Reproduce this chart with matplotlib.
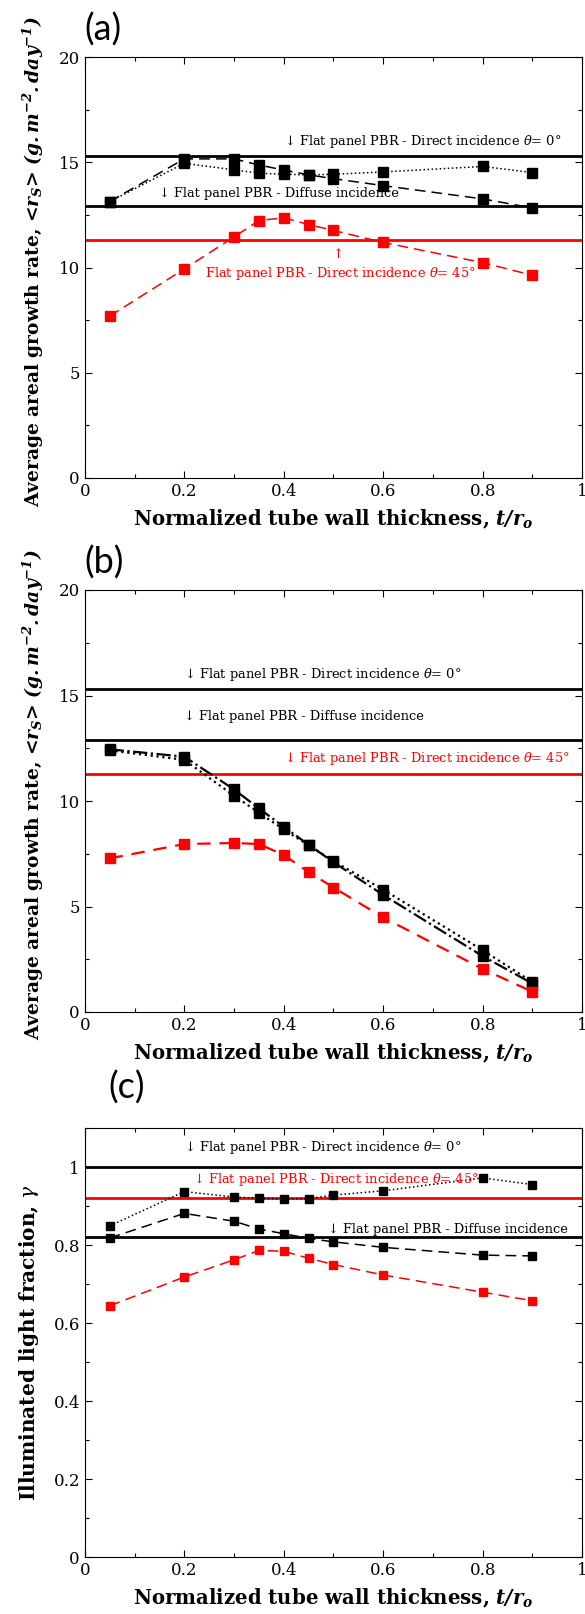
import matplotlib
matplotlib.use('Agg')
import matplotlib.pyplot as plt
from matplotlib.ticker import MultipleLocator

plt.rcParams['font.family'] = ['DejaVu Serif', 'DejaVu Sans']
plt.rcParams['mathtext.fontset'] = 'custom'
plt.rcParams['mathtext.rm'] = 'DejaVu Serif'
plt.rcParams['mathtext.it'] = 'DejaVu Serif:italic'
plt.rcParams['mathtext.bf'] = 'DejaVu Serif:bold'
plt.rcParams['mathtext.bfit'] = 'DejaVu Serif:bold:italic'

# --- dados ---
t_ro = [0.05, 0.2, 0.3, 0.35, 0.4, 0.45, 0.5, 0.6, 0.8, 0.9]

# (a)
a_dash = [13.13, 15.16, 15.16, 14.87, 14.63, 14.40, 14.22, 13.89, 13.26, 12.83]
a_dot = [13.13, 14.95, 14.64, 14.48, 14.43, 14.40, 14.43, 14.54, 14.80, 14.51]
a_red = [7.69, 9.93, 11.45, 12.23, 12.36, 12.04, 11.76, 11.19, 10.23, 9.63]

# (b)
b_dot = [12.40, 11.95, 10.25, 9.45, 8.65, 7.90, 7.15, 5.80, 2.93, 1.42]
b_dashdot = [12.45, 12.10, 10.55, 9.65, 8.78, 7.93, 7.10, 5.55, 2.65, 1.35]
b_red = [7.28, 7.96, 8.01, 7.96, 7.44, 6.63, 5.90, 4.48, 2.04, 0.96]

# (c)
c_dot = [0.849, 0.937, 0.923, 0.920, 0.918, 0.919, 0.928, 0.939, 0.972, 0.955]
c_dash = [0.818, 0.881, 0.861, 0.841, 0.829, 0.817, 0.808, 0.794, 0.774, 0.772]
c_red = [0.644, 0.718, 0.762, 0.786, 0.784, 0.766, 0.750, 0.723, 0.679, 0.657]

# flat panel references
flat_rs = {'direct0': 15.3, 'diffuse': 12.9, 'direct45': 11.3}
flat_gamma = {'direct0': 1.0, 'diffuse': 0.82, 'direct45': 0.92}

txt_d0 = '\u2193 Flat panel PBR - Direct incidence ' + r'$\theta$= $\mathit{0}$°'
txt_dif = '\u2193 Flat panel PBR - Diffuse incidence'
txt_d45 = 'Flat panel PBR - Direct incidence ' + r'$\theta$= $\mathit{45}$°'

xlab = r'Normalized tube wall thickness, $\mathbfit{t/r_o}$'
ylab_rs = r'Average areal growth rate, <$\mathbfit{r_S}$> $\mathbfit{(g.m^{-2}.day^{-1})}$'
ylab_g = r'Illuminated light fraction, $\gamma$'

fig = plt.figure(figsize=(5.85, 16.14), dpi=100)
H = 1614.0
L, W = 0.145, 0.85
ax_a = fig.add_axes([L, 1 - 478 / H, W, 421 / H])
ax_b = fig.add_axes([L, 1 - 1012 / H, W, 422 / H])
ax_c = fig.add_axes([L, 1 - 1557 / H, W, 429 / H])

ms = 7
lw = 1.1
fs_txt = 9.4

def style(ax, ymax, ymaj, ymin, ylabel, yfs=13.4, ypos=0.515):
    ax.set_xlim(0, 1)
    ax.set_ylim(0, ymax)
    ax.xaxis.set_major_locator(MultipleLocator(0.2))
    ax.xaxis.set_minor_locator(MultipleLocator(0.1))
    ax.yaxis.set_major_locator(MultipleLocator(ymaj))
    ax.yaxis.set_minor_locator(MultipleLocator(ymin))
    ax.tick_params(which='both', direction='in', top=True, right=True, labelsize=12)
    ax.tick_params(which='major', length=5, width=0.8)
    ax.tick_params(which='minor', length=3, width=0.8)
    ax.xaxis.set_major_formatter(plt.FuncFormatter(lambda v, p: ('%g' % v)))
    ax.yaxis.set_major_formatter(plt.FuncFormatter(lambda v, p: ('%g' % v)))
    ax.set_xlabel(xlab, fontsize=14.2, fontweight='bold', labelpad=6)
    ax.set_ylabel(ylabel, fontsize=yfs, fontweight='bold', labelpad=9, y=ypos)

# ---- (a) ----
ax = ax_a
ax.axhline(flat_rs['direct0'], color='black', lw=2)
ax.axhline(flat_rs['diffuse'], color='black', lw=2)
ax.axhline(flat_rs['direct45'], color='red', lw=2)
ax.plot(t_ro, a_dash, color='black', ls=(0, (7, 4)), lw=lw, marker='s', ms=ms)
ax.plot(t_ro, a_dot, color='black', ls=':', lw=lw, marker='s', ms=ms)
ax.plot(t_ro, a_red, color='red', ls=(0, (7, 4)), lw=lw, marker='s', ms=ms)
ax.text(0.40, 16.0, txt_d0, fontsize=fs_txt, va='center')
ax.text(0.15, 13.5, txt_dif, fontsize=fs_txt, va='center')
ax.text(0.509, 10.6, '\u2191', fontsize=fs_txt, va='center', ha='center', color='red')
ax.text(0.242, 9.7, txt_d45, fontsize=fs_txt, va='center', color='red')
style(ax, 20, 5, 2.5, ylab_rs)

# ---- (b) ----
ax = ax_b
ax.axhline(flat_rs['direct0'], color='black', lw=2)
ax.axhline(flat_rs['diffuse'], color='black', lw=2)
ax.axhline(flat_rs['direct45'], color='red', lw=2)
ax.plot(t_ro, b_dot, color='black', ls=':', lw=1.6, marker='s', ms=7.5)
ax.plot(t_ro, b_dashdot, color='black', ls='-.', lw=1.6, marker='s', ms=7.5)
ax.plot(t_ro, b_red, color='red', ls=(0, (6, 4)), lw=1.6, marker='s', ms=7.5)
ax.text(0.2, 16.0, txt_d0, fontsize=fs_txt, va='center')
ax.text(0.2, 14.0, txt_dif, fontsize=fs_txt, va='center')
ax.text(0.40, 12.0, '\u2193 ' + txt_d45, fontsize=fs_txt, va='center', color='red')
style(ax, 20, 5, 2.5, ylab_rs)

# ---- (c) ----
ax = ax_c
ax.axhline(flat_gamma['direct0'], color='black', lw=2)
ax.axhline(flat_gamma['diffuse'], color='black', lw=2)
ax.axhline(flat_gamma['direct45'], color='red', lw=2)
ax.plot(t_ro, c_dot, color='black', ls=':', lw=lw, marker='s', ms=6)
ax.plot(t_ro, c_dash, color='black', ls=(0, (7, 4)), lw=lw, marker='s', ms=6)
ax.plot(t_ro, c_red, color='red', ls=(0, (7, 4)), lw=lw, marker='s', ms=6)
ax.text(0.199, 1.049, txt_d0, fontsize=fs_txt, va='center')
ax.text(0.217, 0.969, '\u2193 ' + txt_d45, fontsize=fs_txt, va='center', color='red')
ax.text(0.49, 0.839, txt_dif, fontsize=fs_txt, va='center')
style(ax, 1.1, 0.2, 0.1, ylab_g, yfs=14.5, ypos=0.5)

# panel labels
fig.text(0.145, 1 - 30 / H, '(a)', fontsize=26, family='Lato', va='center')
fig.text(0.145, 1 - 563 / H, '(b)', fontsize=26, family='Lato', va='center')
fig.text(0.185, 1 - 1088 / H, '(c)', fontsize=26, family='Lato', va='center')

fig.savefig('out.png', dpi=100)
